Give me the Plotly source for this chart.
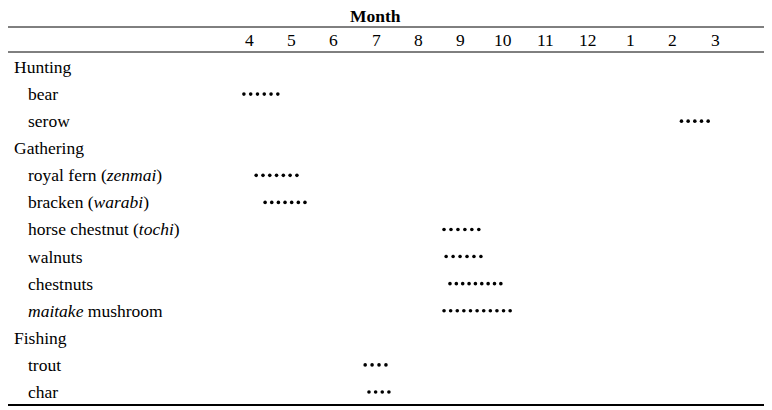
import numpy as np
import plotly.graph_objects as go

months = ["4", "5", "6", "7", "8", "9", "10", "11", "12", "1", "2", "3"]
rows = ["Hunting", "bear", "serow", "Gathering", "royal fern (<i>zenmai</i>)",
        "bracken (<i>warabi</i>)", "horse chestnut (<i>tochi</i>)", "walnuts",
        "chestnuts", "<i>maitake</i> mushroom", "Fishing", "trout", "char"]
is_group = [True, False, False, True, False, False, False, False, False, False, True, False, False]
# season start/end (month units, 4 = April ... 15 = March) and dot counts
start = [None, 3.88, 14.2, None, 4.17, 4.38, 8.6, 8.65, 8.74, 8.6, None, 6.74, 6.83]
end = [None, 4.68, 14.83, None, 5.13, 5.32, 9.42, 9.47, 9.94, 10.16, None, 7.23, 7.3]
ndots = [0, 6, 5, 0, 7, 7, 6, 6, 9, 11, 0, 4, 4]

FONT = "Liberation Serif"
OFF = 8  # page body margin
fig = go.Figure()
xs, ys = [], []
for i, (s, e, n) in enumerate(zip(start, end, ndots)):
    if n:
        for v in np.linspace(s, e, n):
            xs.append(v); ys.append(i)
fig.add_trace(go.Scatter(x=xs, y=ys, mode="markers",
                         marker=dict(size=3.6, color="black"), hoverinfo="skip"))

ann = []
for i, r in enumerate(rows):
    ann.append(dict(x=((12 if is_group[i] else 26) - OFF) / 772, xref="paper", y=i, yref="y",
                    text=r, showarrow=False, xanchor="left",
                    font=dict(family=FONT, size=17.5, color="black")))
for k, m in enumerate(months):
    ann.append(dict(x=4 + k, y=-0.997, xref="x", yref="y", text=m, showarrow=False,
                    font=dict(family=FONT, size=17.5, color="black")))
ann.append(dict(x=(375 - OFF) / 772, xref="paper", y=-1.883, yref="y", text="<b>Month</b>",
                showarrow=False, font=dict(family=FONT, size=17.5, color="black")))

shapes = []
for yv, w in [(-2.326, 2), (-1.477, 1), (-0.554, 1), (12.48, 2)]:
    shapes.append(dict(type="line", xref="paper", yref="y", x0=0, x1=(768 - OFF) / 772,
                       y0=yv, y1=yv, line=dict(color="black", width=w)))

fig.update_layout(width=772, height=410, margin=dict(l=0, r=0, t=0, b=0),
                  plot_bgcolor="white", paper_bgcolor="white", showlegend=False,
                  annotations=ann, shapes=shapes,
                  xaxis=dict(range=[-1.684, 16.524], visible=False, fixedrange=True),
                  yaxis=dict(range=[12.961, -2.179], visible=False, fixedrange=True))
fig.write_html("out.html")
